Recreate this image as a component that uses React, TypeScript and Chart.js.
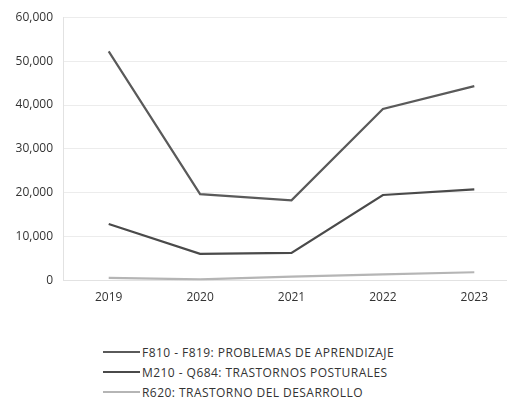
import React, { useEffect, useRef } from "react";
import { Chart, registerables } from "chart.js";

Chart.register(...registerables);

const years = ["2019", "2020", "2021", "2022", "2023"];
const aprendizaje = [52200, 19700, 18300, 39100, 44300];
const posturales = [12900, 6100, 6300, 19500, 20800];
const desarrollo = [600, 300, 900, 1400, 1900];

const seriesNames = [
  "F810 - F819: PROBLEMAS DE APRENDIZAJE",
  "M210 - Q684: TRASTORNOS POSTURALES",
  "R620: TRASTORNO DEL DESARROLLO",
];
const seriesColors = ["#5a5a5a", "#4a4a4a", "#b5b5b5"];

export default function App() {
  const ref = useRef<HTMLCanvasElement | null>(null);

  useEffect(() => {
    if (!ref.current) return;
    const font = { family: "Open Sans", size: 12 };
    const chart = new Chart(ref.current, {
      type: "line",
      data: {
        labels: years,
        datasets: [aprendizaje, posturales, desarrollo].map((d, i) => ({
          label: seriesNames[i],
          data: d,
          borderColor: seriesColors[i],
          backgroundColor: seriesColors[i],
          borderWidth: 2.2,
          pointRadius: 0,
          tension: 0,
        })),
      },
      options: {
        animation: false,
        responsive: false,
        maintainAspectRatio: false,
        layout: { padding: { top: 14, left: 0, right: 0, bottom: 0 } },
        plugins: { legend: { display: false }, tooltip: { enabled: false } },
        scales: {
          x: {
            type: "category",
            offset: true,
            grid: { display: false },
            border: { display: true, color: "#e2e2e2", width: 1 },
            ticks: { color: "#333", font, padding: 2 },
          },
          y: {
            min: 0,
            max: 60000,
            ticks: { stepSize: 10000, color: "#333", font, padding: 10 },
            grid: { color: "#ececec", drawTicks: false },
            border: { display: true, color: "#e2e2e2", width: 1 },
            afterFit: (s: any) => {
              s.width = 63;
            },
          },
        },
      },
    });
    return () => chart.destroy();
  }, []);

  return (
    <div
      style={{
        position: "fixed",
        left: 0,
        top: 0,
        width: 507,
        height: 403,
        overflow: "hidden",
        background: "#fff",
        fontFamily: "Open Sans",
      }}
    >
      <canvas ref={ref} width={520} height={307} style={{ display: "block" }} />
      <div style={{ position: "absolute", left: 103, top: 342 }}>
        {seriesNames.map((n, i) => (
          <div
            key={n}
            style={{
              display: "flex",
              alignItems: "center",
              height: 20,
              fontSize: 12,
              letterSpacing: "0.45px",
              color: "#333",
              whiteSpace: "nowrap",
            }}
          >
            <span
              style={{
                display: "inline-block",
                width: 37,
                height: 2,
                background: seriesColors[i],
                marginRight: 2,
              }}
            />
            <span>{n}</span>
          </div>
        ))}
      </div>
    </div>
  );
}
